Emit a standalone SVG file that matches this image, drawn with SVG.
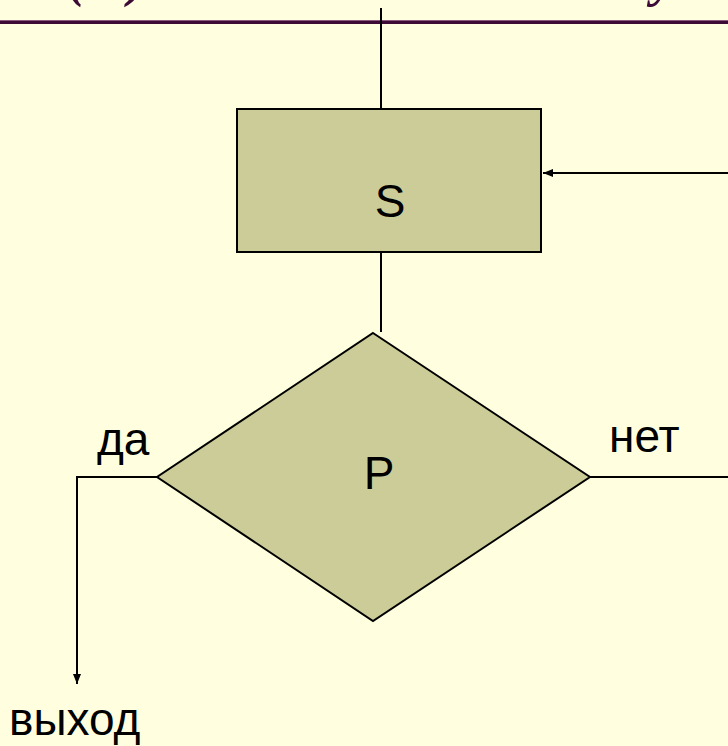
<svg xmlns="http://www.w3.org/2000/svg" width="728" height="746" viewBox="0 0 728 746">
<style>
.bg{fill:#FFFFE0}
.node{fill:#CCCC99;stroke:#000;stroke-width:2}
.conn{fill:none;stroke:#000;stroke-width:2}
.lbl{font-family:"Liberation Sans",Arial,sans-serif;font-size:46px;fill:#000}
.title{font-family:"Liberation Serif","Times New Roman",serif;font-style:italic;font-weight:bold;font-size:52px;fill:#3D0A35}
</style>
<defs>
<marker id="arr" viewBox="0 0 10 10" refX="10" refY="5" markerWidth="10" markerHeight="10" markerUnits="userSpaceOnUse" orient="auto">
<path d="M0,1 L10,5 L0,9 Z" fill="#000"/>
</marker>
</defs>
<rect class="bg" x="0" y="0" width="728" height="746"/>
<g id="title">
<text class="title" x="68" y="-4">(</text>
<text class="title" x="128" y="-4">)</text>
<text class="title" x="652" y="-4">у</text>
<rect x="0" y="20" width="728" height="4" fill="#3D0A35"/>
<rect x="0" y="20" width="728" height="1" fill="#8A5A80"/>
</g>
<g id="connectors">
<line class="conn" x1="381" y1="8" x2="381" y2="109"/>
<line class="conn" x1="381" y1="252" x2="381" y2="332"/>
<polyline class="conn" points="157,477 77,477 77,684" marker-end="url(#arr)"/>
<polyline class="conn" points="590,477 740,477"/>
<line class="conn" x1="740" y1="173" x2="543" y2="173" marker-end="url(#arr)"/>
</g>
<g id="node-S">
<rect class="node" x="237" y="109" width="304" height="143"/>
<text class="lbl" x="390" y="217" text-anchor="middle">S</text>
</g>
<g id="node-P">
<polygon class="node" points="373,333 590,477 373,621 157,477"/>
<text class="lbl" x="379" y="489" text-anchor="middle">P</text>
</g>
<g id="labels">
<text class="lbl" x="97" y="455">да</text>
<text class="lbl" x="609" y="452">нет</text>
<text class="lbl" x="9" y="735">выход</text>
</g>
</svg>
